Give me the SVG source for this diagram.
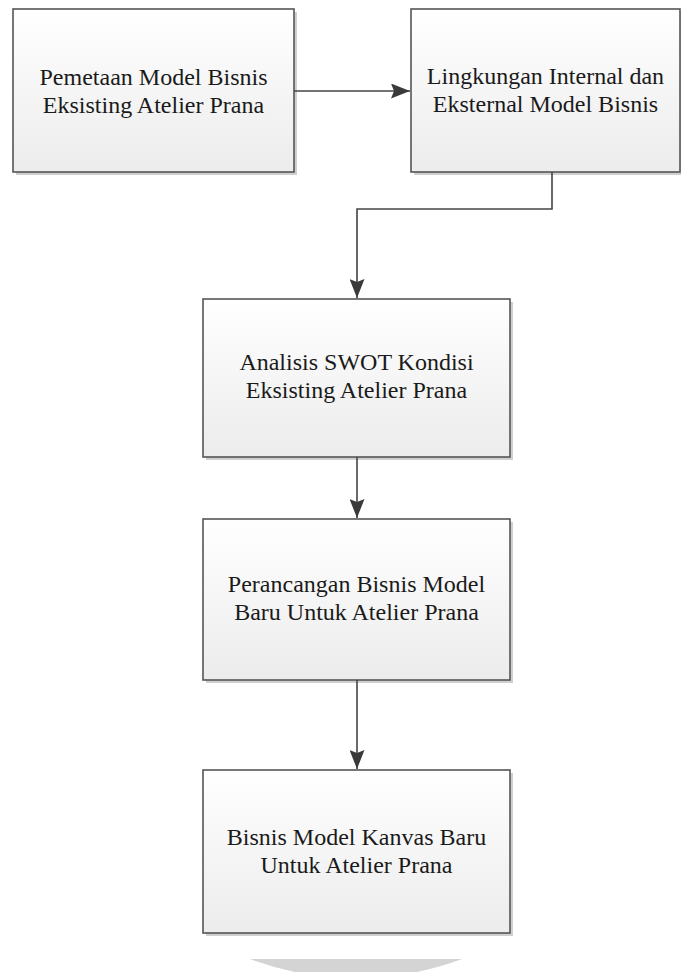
<svg xmlns="http://www.w3.org/2000/svg" width="681" height="972" viewBox="0 0 681 972">
<defs>
<linearGradient id="boxfill" x1="0" y1="0" x2="0" y2="1">
<stop offset="0" stop-color="#ffffff"/>
<stop offset="1" stop-color="#ececec"/>
</linearGradient>
<marker id="arrow" markerWidth="19" markerHeight="15" refX="19" refY="7.5" orient="auto" markerUnits="userSpaceOnUse">
<path d="M0,0 L19,7.5 L0,15 L3,7.5 Z" fill="#3a3a3a"/>
</marker>
</defs>
<style>
.shadow{fill:#cfcfcf;}
.box{fill:url(#boxfill);stroke:#555555;stroke-width:1.6;}
.lbl{font-family:"Liberation Serif","Times New Roman",serif;font-size:24px;fill:#1a1a1a;text-anchor:middle;}
.conn{fill:none;stroke:#444444;stroke-width:1.6;}
</style>
<rect x="0" y="0" width="681" height="972" fill="#ffffff"/>
<path d="M250,959 H462 A302,302 0 0 1 417,972 H295 A302,302 0 0 1 250,959 Z" fill="#d4d4d4"/>
<g id="node1">
<rect class="shadow" x="16" y="12" width="281" height="163"/>
<rect class="box" x="13" y="9" width="281" height="163"/>
<text class="lbl" x="153.5" y="85">Pemetaan Model Bisnis</text>
<text class="lbl" x="153.5" y="113">Eksisting Atelier Prana</text>
</g>
<g id="node2">
<rect class="shadow" x="414" y="12" width="269" height="163"/>
<rect class="box" x="411" y="9" width="269" height="163"/>
<text class="lbl" x="545.5" y="84">Lingkungan Internal dan</text>
<text class="lbl" x="545.5" y="112">Eksternal Model Bisnis</text>
</g>
<g id="node3">
<rect class="shadow" x="206" y="302" width="307" height="158"/>
<rect class="box" x="203" y="299" width="307" height="158"/>
<text class="lbl" x="356.5" y="370">Analisis SWOT Kondisi</text>
<text class="lbl" x="356.5" y="398">Eksisting Atelier Prana</text>
</g>
<g id="node4">
<rect class="shadow" x="206" y="522" width="307" height="161"/>
<rect class="box" x="203" y="519" width="307" height="161"/>
<text class="lbl" x="356.5" y="592">Perancangan Bisnis Model</text>
<text class="lbl" x="356.5" y="620">Baru Untuk Atelier Prana</text>
</g>
<g id="node5">
<rect class="shadow" x="206" y="773" width="307" height="163"/>
<rect class="box" x="203" y="770" width="307" height="163"/>
<text class="lbl" x="356.5" y="845">Bisnis Model Kanvas Baru</text>
<text class="lbl" x="356.5" y="873">Untuk Atelier Prana</text>
</g>
<g id="connectors">
<path class="conn" d="M294,91 H410" marker-end="url(#arrow)"/>
<path class="conn" d="M552,172 V209 H357 V298" marker-end="url(#arrow)"/>
<path class="conn" d="M357,457 V518" marker-end="url(#arrow)"/>
<path class="conn" d="M357,680 V769" marker-end="url(#arrow)"/>
</g>
</svg>
